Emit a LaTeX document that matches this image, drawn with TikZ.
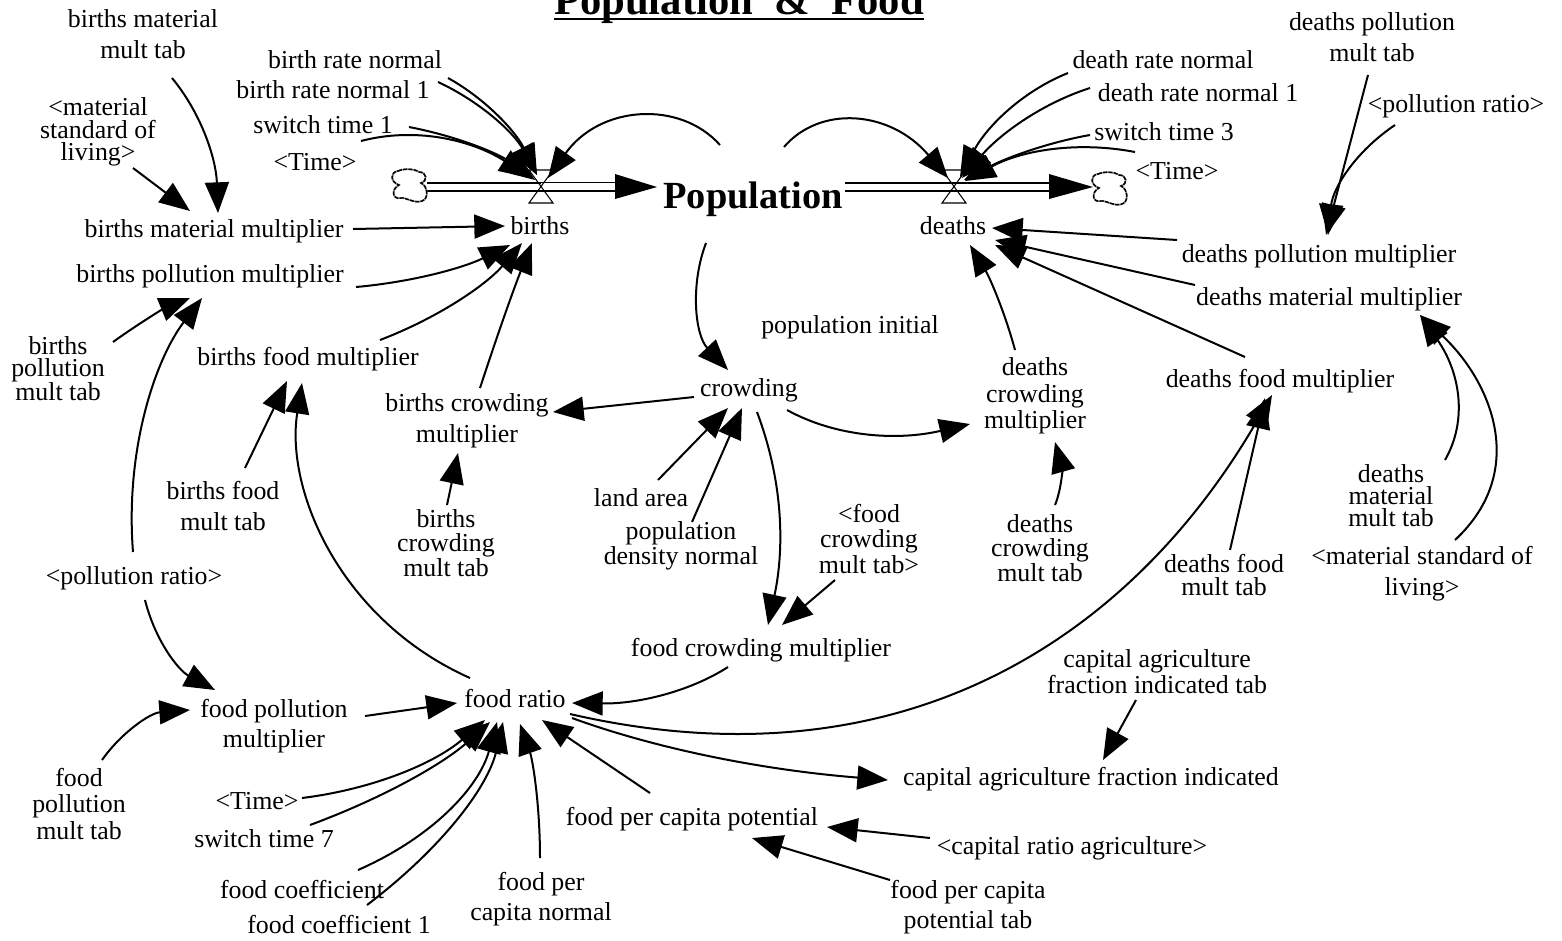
\documentclass[tikz,border=0pt]{standalone}
\usepackage{fontspec}
\setmainfont{Liberation Serif}
\usetikzlibrary{arrows.meta}
\tikzset{
  lab/.style={inner sep=0pt,align=center,font=\fontsize{19.4pt}{#1}\selectfont},
  lab/.default=23pt,
  slab/.style={inner sep=0pt,align=center,text height=13pt,text depth=0pt,font=\fontsize{19.4pt}{23pt}\selectfont},
  link/.style={line width=1.5pt,-{Triangle[length=23pt,width=18pt]}},
  pipe/.style={line width=#1,black},
  valveshape/.style={draw=black,fill=none,line width=0.8pt},
  cloudbase/.style={draw=black!45,line width=1.3pt,fill=white},
  cloudtop/.style={draw=black,line width=1.1pt,dash pattern=on 3pt off 1pt}
}
\begin{document}
\begin{tikzpicture}[x=0.75pt,y=-0.75pt]
\useasboundingbox (0,0) rectangle (1562,940);
% labels
\node[inner sep=0pt,anchor=base,text depth=0pt,font=\fontsize{32pt}{34pt}\selectfont\bfseries] (title) at (739,14) {Population~~\&~~Food};
\draw[line width=1.9pt] ([yshift=-3.4pt]title.south west) -- ([yshift=-3.4pt]title.south east);
\node[lab=23.5pt] (bmt) at (143,34) {births material\\[0pt]mult tab};
\node[lab=17pt] (msl) at (98,132) {\textless material\\standard of\\living\textgreater};
\node[slab] (bmm) at (214,229) {births material multiplier};
\node[slab] (bpm) at (210,274) {births pollution multiplier};
\node[lab=16pt] (bptab) at (58,369) {births\\pollution\\mult tab};
\node[slab] (bfm) at (308,357) {births food multiplier};
\node[lab=23pt] (bft) at (223,506) {births food\\mult tab};
\node[lab=23pt] (bcm) at (467,421) {births crowding\\multiplier};
\node[lab=18.5pt] (bct) at (446,543) {births\\crowding\\mult tab};
\node[slab] (brn) at (355,60) {birth rate normal};
\node[slab] (brn1) at (333,90) {birth rate normal 1};
\node[slab] (st1) at (323,125) {switch time 1};
\node[slab] (time1) at (315,162) {\textless Time\textgreater};
\node[slab] (births) at (540,226) {births};
\node[inner sep=0pt,text height=19pt,text depth=0pt,font=\fontsize{28.8pt}{30pt}\selectfont\bfseries] (pop) at (753,196) {Population};
\node[slab] (deaths) at (953,226) {deaths};
\node[slab] (crowd) at (749,388) {crowding};
\node[slab] (popinit) at (850,325) {population initial};
\node[lab=20pt] (dcm) at (1035,396) {deaths\\crowding\\multiplier};
\node[lab=18.5pt] (dct) at (1040,548) {deaths\\crowding\\mult tab};
\node[slab] (land) at (641,498) {land area};
\node[lab=16.5pt] (pdn) at (681,546) {population\\density normal};
\node[lab=19pt] (fct) at (869,539) {\textless food\\crowding\\mult tab\textgreater};
\node[slab] (fcm) at (761,648) {food crowding multiplier};
\node[slab] (drn) at (1163,60) {death rate normal};
\node[slab] (drn1) at (1198,93) {death rate normal 1};
\node[slab] (st3) at (1164,132) {switch time 3};
\node[slab] (time3) at (1177,171) {\textless Time\textgreater};
\node[lab=23.5pt] (dpt) at (1372,37) {deaths pollution\\mult tab};
\node[slab] (prat) at (1456,104) {\textless pollution ratio\textgreater};
\node[slab] (dpm) at (1319,254) {deaths pollution multiplier};
\node[slab] (dmm) at (1329,297) {deaths material multiplier};
\node[slab] (dfm) at (1280,379) {deaths food multiplier};
\node[lab=16.5pt] (dmt) at (1391,496) {deaths\\material\\mult tab};
\node[lab=23.5pt] (msl2) at (1422,574) {\textless material standard of\\living\textgreater};
\node[lab=17pt] (dft) at (1224,575) {deaths food\\mult tab};
\node[slab] (prat2) at (134,576) {\textless pollution ratio\textgreater};
\node[lab=22.5pt] (fpm) at (274,726) {food pollution\\multiplier};
\node[slab] (fr) at (515,699) {food ratio};
\node[lab=20pt] (fpt) at (79,804) {food\\pollution\\mult tab};
\node[lab=19.5pt] (cat) at (1157,672) {capital agriculture\\fraction indicated tab};
\node[slab] (caf) at (1091,777) {capital agriculture fraction indicated};
\node[slab] (fcp) at (692,817) {food per capita potential};
\node[slab] (crat) at (1072,846) {\textless capital ratio agriculture\textgreater};
\node[lab=23pt] (fcpt) at (968,907) {food per capita\\potential tab};
\node[lab=22pt] (fpcn) at (541,899) {food per\\capita normal};
\node[slab] (time7) at (257,801) {\textless Time\textgreater};
\node[slab] (st7) at (264,839) {switch time 7};
\node[slab] (fc) at (302,890) {food coefficient};
\node[slab] (fc1) at (339,925) {food coefficient 1};
% stock-and-flow parts
\coordinate (valve1) at (541,187);
\coordinate (valve2) at (954,187);
\coordinate (cloud1) at (410,186);
\coordinate (cloud2) at (1110,189);
% pipes
\draw[pipe=1.5pt] ([shift={(17,-3.5)}]cloud1) -- ([shift={(0,-4.5)}]valve1);
\draw[pipe=1.5pt] ([shift={(17,5)}]cloud1) -- ([shift={(0,4)}]valve1);
\draw[pipe=0.8pt] ([shift={(0,-4.5)}]valve1) -- ([shift={(-120,-13.5)}]pop.center);
\draw[pipe=0.8pt] ([shift={(0,4)}]valve1) -- ([shift={(-120,-5)}]pop.center);
\fill ([shift={(-138,-22)}]pop.center) -- ([shift={(-96,-9)}]pop.center) -- ([shift={(-138,3)}]pop.center) -- cycle;
\draw[pipe=1.5pt] ([shift={(92,-13.5)}]pop.center) -- ([shift={(0,-4.5)}]valve2);
\draw[pipe=1.5pt] ([shift={(92,-5)}]pop.center) -- ([shift={(0,4)}]valve2);
\draw[pipe=1.5pt] ([shift={(0,-4.5)}]valve2) -- ([shift={(-61,-6.5)}]cloud2);
\draw[pipe=1.5pt] ([shift={(0,4)}]valve2) -- ([shift={(-61,2)}]cloud2);
\fill ([shift={(-61,-15)}]cloud2) -- ([shift={(-17,-2)}]cloud2) -- ([shift={(-61,10)}]cloud2) -- cycle;
% valves
\draw[valveshape] ([shift={(-12,-17)}]valve1) -- ([shift={(12,-17)}]valve1) -- ([shift={(-12,16)}]valve1) -- ([shift={(12,16)}]valve1) -- cycle;
\draw[valveshape] ([shift={(-12,-17)}]valve2) -- ([shift={(12,-17)}]valve2) -- ([shift={(-12,16)}]valve2) -- ([shift={(12,16)}]valve2) -- cycle;
% clouds
\foreach \cl in {cloud1,cloud2}{
  \foreach \sty in {cloudbase,cloudtop}{
  \draw[\sty] ([shift={(-12,-15)}]\cl) .. controls ([shift={(-5,-18)}]\cl) and ([shift={(5,-17)}]\cl) .. ([shift={(9,-14)}]\cl) .. controls ([shift={(17,-14)}]\cl) and ([shift={(18,-5)}]\cl) .. ([shift={(11,-3)}]\cl) .. controls ([shift={(18,0)}]\cl) and ([shift={(19,13)}]\cl) .. ([shift={(12,15)}]\cl) .. controls ([shift={(5,18)}]\cl) and ([shift={(-5,11)}]\cl) .. ([shift={(-9,12)}]\cl) .. controls ([shift={(-18,14)}]\cl) and ([shift={(-19,3)}]\cl) .. ([shift={(-11,-1)}]\cl) .. controls ([shift={(-20,-4)}]\cl) and ([shift={(-20,-14)}]\cl) .. ([shift={(-12,-15)}]\cl) -- cycle;
  }
}
% connectors
\draw[link] ([shift={(29,44)}]bmt.center) .. controls (201,113) and (216,158) .. ([shift={(4,-16)}]bmm.center);
\draw[link] ([shift={(35,36)}]msl.center) -- ([shift={(-24,-18)}]bmm.center);
\draw[link] ([shift={(93,18)}]brn.center) .. controls (486,99) and (516,132) .. ([shift={(-4,-12)}]valve1);
\draw[link] ([shift={(105,-8)}]brn1.center) .. controls (481,102) and (514,133) .. ([shift={(-4,-12)}]valve1);
\draw[link] ([shift={(86,2)}]st1.center) .. controls (456,136) and (498,153) .. ([shift={(-6,-7)}]valve1);
\draw[link] ([shift={(46,-21)}]time1.center) .. controls (414,127) and (470,139) .. ([shift={(-11,-10)}]valve1);
\draw[link] ([shift={(-33,-51)}]pop.center) .. controls (680,100) and (600,105) .. ([shift={(7,-9)}]valve1);
\draw[link] ([shift={(139,0)}]bmm.center) -- ([shift={(-35,0)}]births.center);
\draw[link] ([shift={(146,13)}]bpm.center) .. controls (412,282) and (463,268) .. ([shift={(-30,19)}]births.center);
\draw[link] ([shift={(72,-17)}]bfm.center) .. controls (440,317) and (487,284) .. ([shift={(-18,17)}]births.center);
\draw[link] ([shift={(13,-33)}]bcm.center) .. controls (497,336) and (514,288) .. ([shift={(-8,17)}]births.center);
\draw[link] ([shift={(55,-27)}]bptab.center) .. controls (138,324) and (163,309) .. ([shift={(-20,24)}]bpm.center);
\draw[link] ([shift={(-1,-24)}]prat2.center) .. controls (125,450) and (155,360) .. ([shift={(-8,24)}]bpm.center);
\draw[link] ([shift={(11,24)}]prat2.center) .. controls (155,640) and (178,670) .. ([shift={(-59,-36)}]fpm.center);
\draw[link] ([shift={(22,-38)}]bft.center) -- ([shift={(-21,24)}]bfm.center);
\draw[link] ([shift={(-45,-21)}]fr.center) .. controls (340,620) and (285,490) .. ([shift={(-6,26)}]bfm.center);
\draw[link] ([shift={(1,-38)}]bct.center) -- ([shift={(-9,32)}]bcm.center);
\draw[link] ([shift={(-55,9)}]crowd.center) -- ([shift={(86,-9)}]bcm.center);
\draw[link] ([shift={(-47,47)}]pop.center) .. controls (690,285) and (695,335) .. ([shift={(-21,-18)}]crowd.center);
\draw[link] ([shift={(17,-18)}]land.center) -- ([shift={(-21,20)}]crowd.center);
\draw[link] ([shift={(11,-24)}]pdn.center) -- ([shift={(-7,20)}]crowd.center);
\draw[link] ([shift={(38,22)}]crowd.center) .. controls (836,437) and (897,441) .. ([shift={(-65,28)}]dcm.center);
\draw[link] ([shift={(8,24)}]crowd.center) .. controls (790,500) and (780,570) .. ([shift={(7,-23)}]fcm.center);
\draw[link] ([shift={(-34,41)}]fct.center) -- ([shift={(21,-23)}]fcm.center);
\draw[link] ([shift={(-33,19)}]fcm.center) .. controls (689,692) and (637,704) .. ([shift={(57,4)}]fr.center);
\draw[link] ([shift={(91,-10)}]fpm.center) -- ([shift={(-58,4)}]fr.center);
\draw[link] ([shift={(23,-44)}]fpt.center) .. controls (121,733) and (150,713) .. ([shift={(-84,-16)}]fpm.center);
\draw[link] ([shift={(45,-3)}]time7.center) .. controls (374,789) and (435,763) .. ([shift={(-30,21)}]fr.center);
\draw[link] ([shift={(46,-14)}]st7.center) .. controls (383,798) and (443,764) .. ([shift={(-25,23)}]fr.center);
\draw[link] ([shift={(56,-20)}]fc.center) .. controls (433,837) and (479,787) .. ([shift={(-18,23)}]fr.center);
\draw[link] ([shift={(28,-20)}]fc1.center) .. controls (442,848) and (488,787) .. ([shift={(-12,23)}]fr.center);
\draw[link] ([shift={(-1,-41)}]fpcn.center) .. controls (540,806) and (533,761) .. ([shift={(5,25)}]fr.center);
\draw[link] ([shift={(-42,-24)}]fcp.center) -- ([shift={(27,21)}]fr.center);
\draw[link] ([shift={(57,19)}]fr.center) .. controls (657,749) and (763,770) .. ([shift={(-203,3)}]caf.center);
\draw[link] ([shift={(-142,-8)}]crat.center) -- ([shift={(135,10)}]fcp.center);
\draw[link] ([shift={(-78,-27)}]fcpt.center) -- ([shift={(60,21)}]fcp.center);
\draw[link] ([shift={(-21,28)}]cat.center) -- ([shift={(12,-17)}]caf.center);
\draw[link] ([shift={(55,15)}]fr.center) .. controls (900,790) and (1130,640) .. ([shift={(-8,16)}]dfm.center);
\draw[link] ([shift={(6,-25)}]dft.center) -- ([shift={(-15,19)}]dfm.center);
\draw[link] ([shift={(15,-43)}]dct.center) .. controls (1062,488) and (1062,467) .. ([shift={(20,46)}]dcm.center);
\draw[link] ([shift={(-20,-46)}]dcm.center) .. controls (1005,313) and (990,278) .. ([shift={(17,19)}]deaths.center);
\draw[link] ([shift={(-35,-22)}]dfm.center) -- ([shift={(42,19)}]deaths.center);
\draw[link] ([shift={(-134,-12)}]dmm.center) -- ([shift={(42,14)}]deaths.center);
\draw[link] ([shift={(-142,-14)}]dpm.center) -- ([shift={(39,2)}]deaths.center);
\draw[link] ([shift={(-4,38)}]dpt.center) -- ([shift={(7,-19)}]dpm.center);
\draw[link] ([shift={(-61,21)}]prat.center) .. controls (1355,152) and (1333,188) .. ([shift={(9,-19)}]dpm.center);
\draw[link] ([shift={(54,-36)}]dmt.center) .. controls (1468,420) and (1460,372) .. ([shift={(91,18)}]dmm.center);
\draw[link] ([shift={(33,-34)}]msl2.center) .. controls (1530,470) and (1490,380) .. ([shift={(91,18)}]dmm.center);
\draw[link] ([shift={(-95,13)}]drn.center) .. controls (1023,91) and (987,126) .. ([shift={(6,-10)}]valve2);
\draw[link] ([shift={(-108,-5)}]drn1.center) .. controls (1043,103) and (1001,133) .. ([shift={(8,-9)}]valve2);
\draw[link] ([shift={(-74,3)}]st3.center) .. controls (1050,142) and (1008,157) .. ([shift={(10,-7)}]valve2);
\draw[link] ([shift={(-42,-19)}]time3.center) .. controls (1078,141) and (1022,150) .. ([shift={(11,-6)}]valve2);
\draw[link] ([shift={(31,-49)}]pop.center) .. controls (820,105) and (890,110) .. ([shift={(-6,-9)}]valve2);
\end{tikzpicture}
\end{document}
